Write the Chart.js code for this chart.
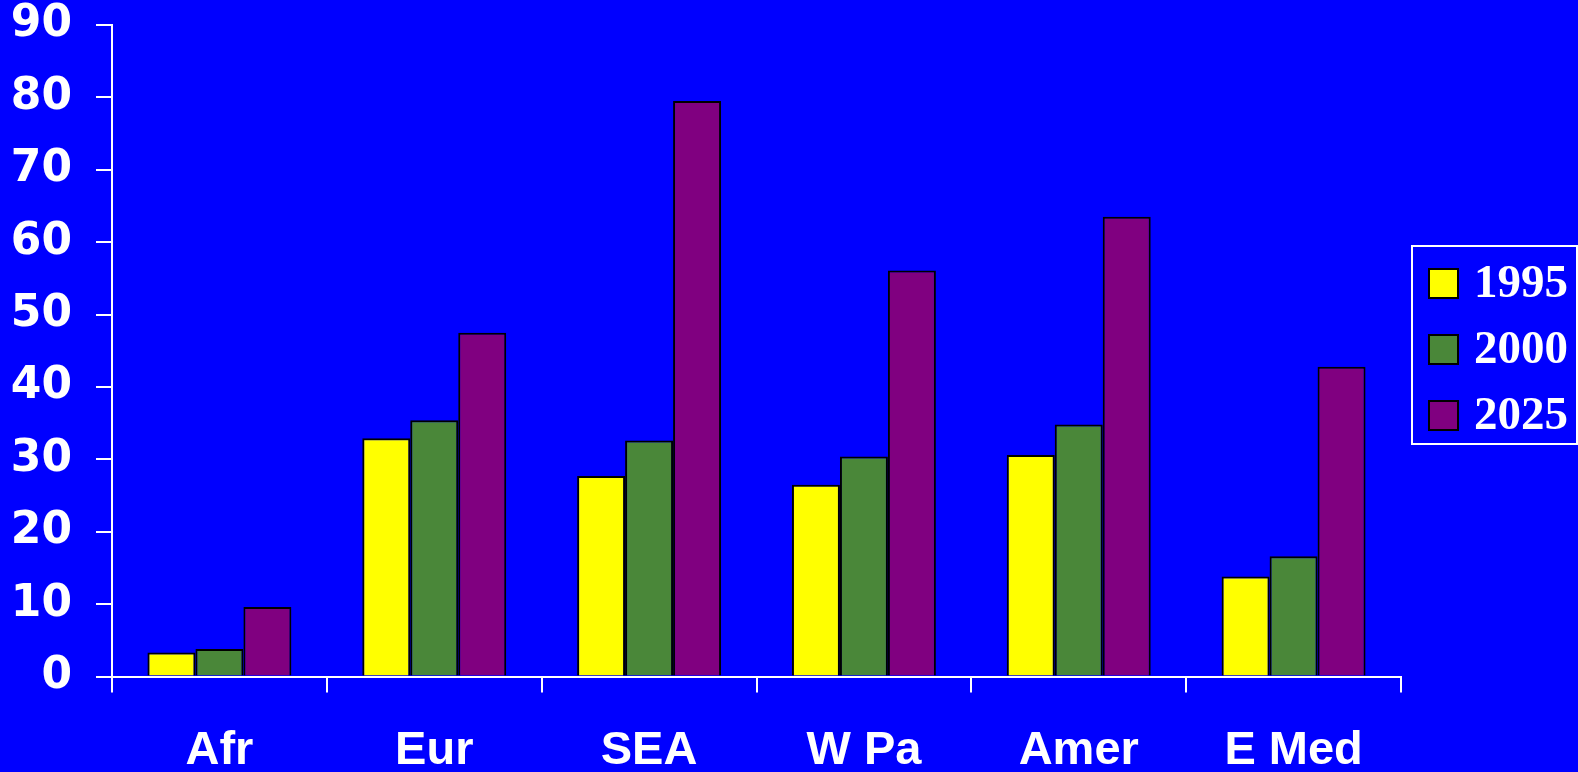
<!DOCTYPE html>
<html>
<head>
<meta charset="utf-8">
<script src="https://cdn.jsdelivr.net/npm/chart.js@4.4.1/dist/chart.umd.min.js"></script>
<style>
  html, body { margin: 0; padding: 0; background: #0000ff; }
  #regionChart { display: block; }
</style>
</head>
<body>
<canvas id="regionChart" width="1578" height="772"></canvas>
<script>
const regions = ['Afr', 'Eur', 'SEA', 'W Pa', 'Amer', 'E Med'];
const years = ['1995', '2000', '2025'];
const values1995 = [3.3, 32.9, 27.7, 26.5, 30.6, 13.8];
const values2000 = [3.8, 35.4, 32.6, 30.4, 34.8, 16.6];
const values2025 = [9.6, 47.5, 79.5, 56.1, 63.5, 42.8];
const barColors = ['#ffff00', '#4a8739', '#800080'];

// boxed legend on the right, drawn from the datasets
const boxLegend = {
    id: 'boxLegend',
    afterDraw: (chart) => {
        const ctx = chart.ctx;
        ctx.save();
        ctx.strokeStyle = '#ffffff';
        ctx.lineWidth = 2;
        ctx.strokeRect(1412, 246, 165, 198);

        ctx.font = 'bold 47px "Liberation Serif", "Times New Roman", serif';
        ctx.textBaseline = 'middle';
        ctx.textAlign = 'left';
        chart.data.datasets.forEach((ds, i) => {
            const top = 268 + i * 66;
            ctx.fillStyle = ds.backgroundColor;
            ctx.fillRect(1428, top, 31, 31);
            ctx.strokeStyle = '#000000';
            ctx.lineWidth = 2;
            ctx.strokeRect(1429, top + 1, 29, 29);
            ctx.fillStyle = '#ffffff';
            ctx.fillText(ds.label, 1474, top + 17);
        });
        ctx.restore();
    }
};

const allValues = [values1995, values2000, values2025];

const ctx = document.getElementById('regionChart').getContext('2d');
new Chart(ctx, {
    type: 'bar',
    data: {
        labels: regions,
        datasets: years.map((year, i) => ({
            label: year,
            data: allValues[i],
            backgroundColor: barColors[i],
            borderColor: '#000000',
            borderWidth: 2,
            borderSkipped: 'bottom',
            categoryPercentage: 0.67,
            barPercentage: 1.0
        }))
    },
    options: {
        responsive: false,
        animation: false,
        devicePixelRatio: 1,
        layout: {
            padding: { top: 25, right: 177, left: 0, bottom: 0 }
        },
        plugins: {
            legend: { display: false },
            tooltip: { enabled: false }
        },
        scales: {
            x: {
                grid: {
                    offset: true,
                    drawOnChartArea: false,
                    color: '#ffffff',
                    lineWidth: 2,
                    tickLength: 16
                },
                border: { color: '#ffffff', width: 2 },
                ticks: {
                    color: '#ffffff',
                    padding: 30,
                    maxRotation: 0,
                    font: { family: '"Liberation Sans", Arial, sans-serif', size: 47, weight: 'bold' }
                },
                afterFit: (scale) => {
                    scale.height = 95.5;
                    scale.paddingLeft = 0;
                    scale.paddingRight = 0;
                }
            },
            y: {
                min: 0,
                max: 90,
                grid: {
                    drawOnChartArea: false,
                    color: '#ffffff',
                    lineWidth: 2,
                    tickLength: 16
                },
                border: { color: '#ffffff', width: 2 },
                ticks: {
                    stepSize: 10,
                    color: '#ffffff',
                    padding: 24,
                    font: { family: '"DejaVu Sans", Verdana, sans-serif', size: 44, weight: 'bold', lineHeight: 1 }
                },
                afterFit: (scale) => {
                    scale.width = 112;
                    scale.paddingTop = 0;
                    scale.paddingBottom = 0;
                }
            }
        }
    },
    plugins: [boxLegend]
});
</script>
</body>
</html>
